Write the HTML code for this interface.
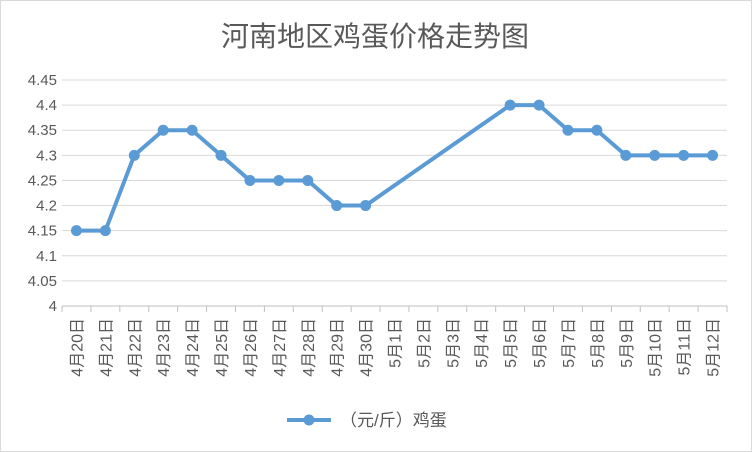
<!DOCTYPE html>
<html><head><meta charset="utf-8">
<style>
body{margin:0;background:#fff;}
svg{display:block;font-family:"Liberation Sans","Noto Sans CJK SC",sans-serif;}
</style></head>
<body>
<svg id="chart" width="752" height="452" viewBox="0 0 752 452">
<rect x="0.5" y="0.5" width="751" height="451" fill="#fff" stroke="#d9d9d9"/>
<text x="375" y="46" text-anchor="middle" font-size="28" fill="#595959">河南地区鸡蛋价格走势图</text>
<g id="grid"></g><g id="xaxis"></g><g id="yaxis"></g><g id="series"></g>
<g>
<line x1="287" y1="420" x2="331" y2="420" stroke="#5b9bd5" stroke-width="4"/>
<circle cx="309" cy="420" r="5.5" fill="#5b9bd5"/>
<text x="340" y="426" font-size="17" fill="#595959">（元/斤）鸡蛋</text>
</g>
</svg>
<script>
const categories=["4月20日","4月21日","4月22日","4月23日","4月24日","4月25日","4月26日","4月27日","4月28日","4月29日","4月30日","5月1日","5月2日","5月3日","5月4日","5月5日","5月6日","5月7日","5月8日","5月9日","5月10日","5月11日","5月12日"];
const prices=[4.15,4.15,4.3,4.35,4.35,4.3,4.25,4.25,4.25,4.2,4.2,null,null,null,null,4.4,4.4,4.35,4.35,4.3,4.3,4.3,4.3];
const yTicks=[4,4.05,4.1,4.15,4.2,4.25,4.3,4.35,4.4,4.45];
const yTickLabels=["4","4.05","4.1","4.15","4.2","4.25","4.3","4.35","4.4","4.45"];
const NS="http://www.w3.org/2000/svg";
const L=62,R=727,T=80,B=306,yMin=4,yMax=4.45;
const band=(R-L)/categories.length;
const xs=i=>L+band*(i+0.5);
const ys=v=>B-(v-yMin)/(yMax-yMin)*(B-T);
function mk(tag,a,p){const e=document.createElementNS(NS,tag);for(const k in a)e.setAttribute(k,a[k]);p.appendChild(e);return e;}
const grid=document.getElementById('grid'),ya=document.getElementById('yaxis'),xa=document.getElementById('xaxis'),se=document.getElementById('series');
yTicks.forEach((t,i)=>{
 const y=ys(t);
 const g=mk('line',{x1:L,x2:R,y1:y,y2:y,stroke:i==0?'#bfbfbf':'#d9d9d9','stroke-width':1},grid);
 
 
 const tx=mk('text',{x:L-5,y:y+5,'text-anchor':'end','font-size':15,fill:'#595959'},ya);
 tx.textContent=yTickLabels[i];
 
 
});
for(let i=0;i<=categories.length;i++){
 const x=L+band*i;
 const tk=mk('line',{x1:x,x2:x,y1:B,y2:B+6,stroke:'#bfbfbf'},xa);
 
 
}
categories.forEach((c,i)=>{
 const x=xs(i)+6;
 const tx=mk('text',{x:x,y:318,'text-anchor':'end','font-size':16,fill:'#595959',transform:`rotate(-90 ${x} 318)`},xa);
 tx.textContent=c;
 
 
});
const pts=[];prices.forEach((v,i)=>{if(v!=null)pts.push([xs(i),ys(v)]);});
const pl=mk('polyline',{points:pts.map(p=>p.join(',')).join(' '),fill:'none',stroke:'#5b9bd5','stroke-width':4,'stroke-linejoin':'round'},se);


pts.forEach(p=>{
 const c=mk('circle',{cx:p[0],cy:p[1],r:5.5,fill:'#5b9bd5'},se);
 
 
});
</script>
</body></html>
